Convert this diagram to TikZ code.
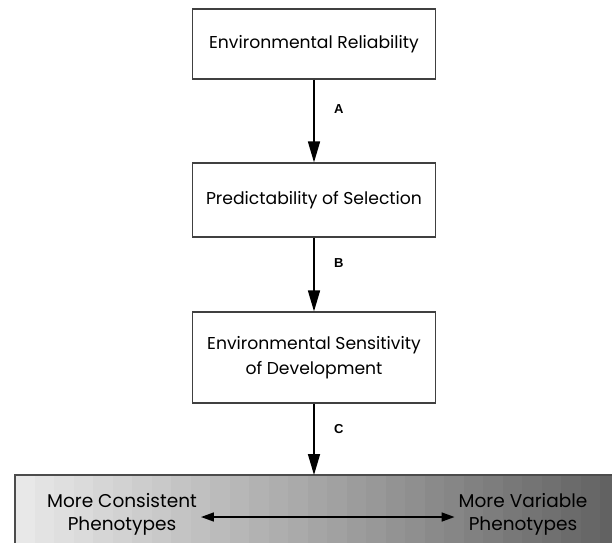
\documentclass[tikz,border=0pt]{standalone}
\usepackage{fontspec}
\setmainfont{Poppins}
\newfontfamily\labelfont{Liberation Sans}
\usetikzlibrary{arrows.meta}

\begin{document}
\begin{tikzpicture}[x=1pt, y=-1pt, >={Triangle[width=12pt, length=21pt]}, line width=1.6pt]

\useasboundingbox (0,0) rectangle (612,542);

\tikzset{
  stagebox/.style={draw=black!75, line width=1.2pt, fill=white,
                   minimum width=243pt, align=center,
                   font=\fontsize{17.2}{25}\selectfont},
  steplabel/.style={font=\labelfont\bfseries\fontsize{13}{14}\selectfont},
  endlabel/.style={align=center, font=\fontsize{18.5}{23}\selectfont}
}

% phenotype bar, in grey bands
\foreach \k in {0,...,31}{
  \pgfmathsetmacro\shadeval{9+\k*1.75}
  \fill[black!\shadeval] (15+\k*19.5,475) rectangle (15+\k*19.5+19.6,560);
}
\draw[draw=black!70, line width=1.4pt] (15,475) rectangle (640,560);
\coordinate (bar) at (314,475);

\node[stagebox, minimum height=70pt] (reliab) at (314,44) {Environmental Reliability};
\node[stagebox, minimum height=74pt] (predict) at (314,200) {Predictability of Selection};
\node[stagebox, minimum height=91pt] (sensit) at (314,357.5)
  {Environmental Sensitivity\\of Development};

\draw[->] (reliab.south) -- node[steplabel, right=16pt, pos=0.35] {A} (predict.north);
\draw[->] (predict.south) -- node[steplabel, right=16pt, pos=0.35] {B} (sensit.north);
\draw[->] (sensit.south) -- node[steplabel, right=16pt, pos=0.35] {C} (bar);

\node[endlabel] (consist) at (122,514) {More Consistent\\Phenotypes};
\node[endlabel] (variab) at (523,514) {More Variable\\Phenotypes};
\draw[<->, >={Triangle[width=9pt, length=13pt]}]
  ([yshift=-3pt]consist.east) -- ([yshift=-3pt]variab.west);

\end{tikzpicture}
\end{document}
